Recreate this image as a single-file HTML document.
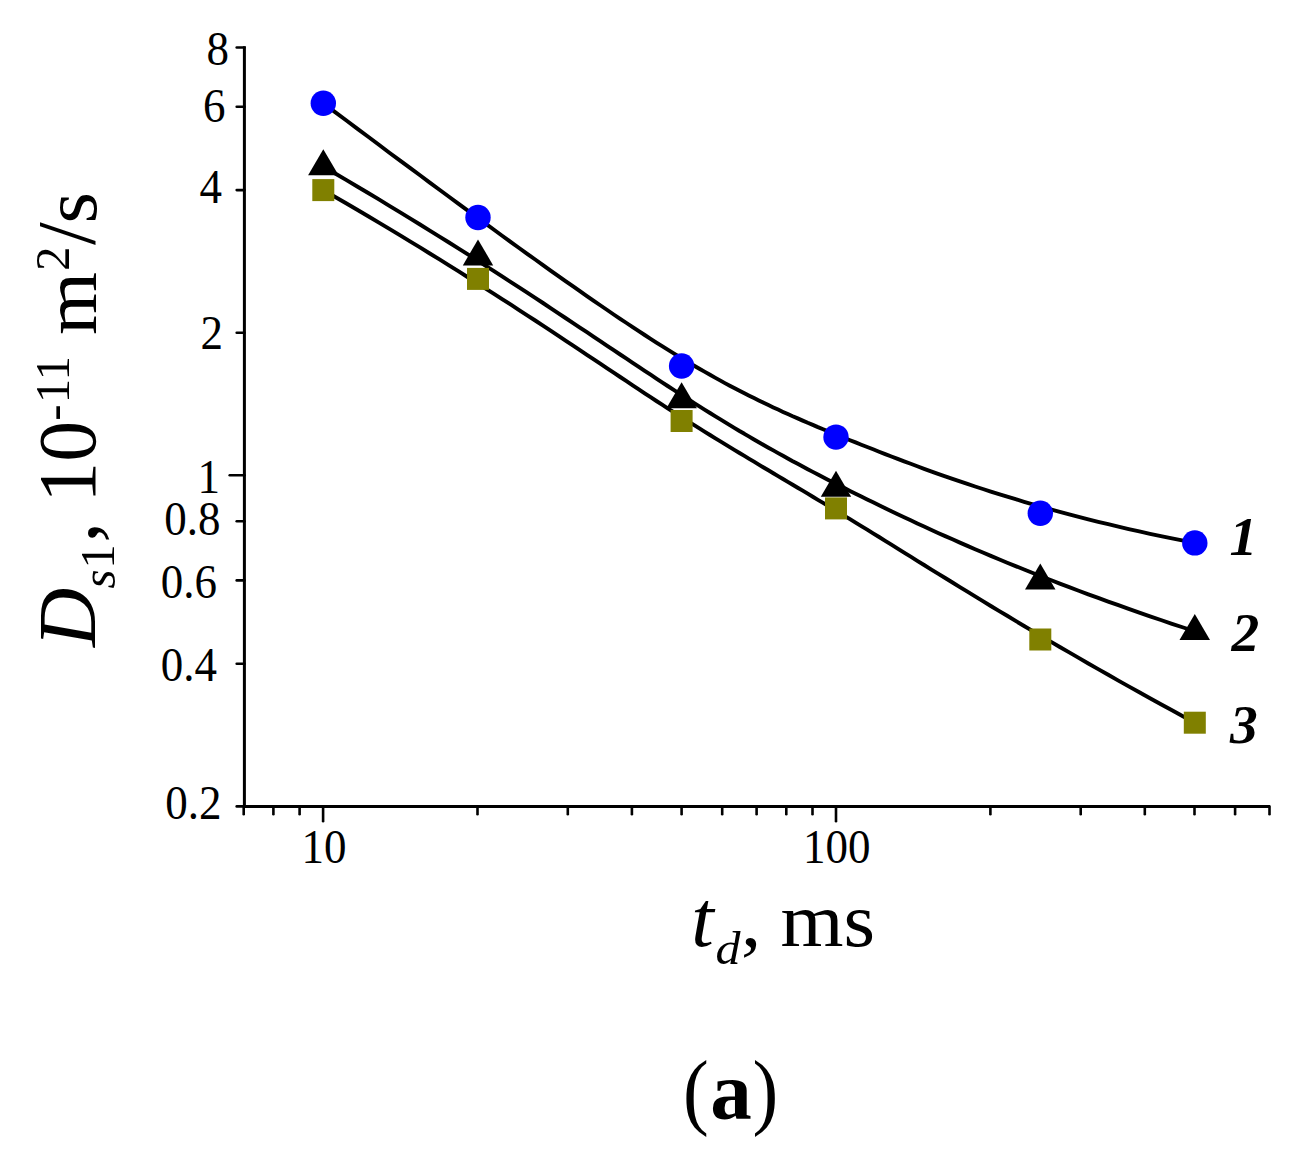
<!DOCTYPE html>
<html><head><meta charset="utf-8"><title>chart</title>
<style>
html,body{margin:0;padding:0;background:#fff;}
svg{display:block;}
text{font-family:"Liberation Serif",serif;fill:#000;}
</style></head><body>
<svg width="1316" height="1164" viewBox="0 0 1316 1164">
<rect width="1316" height="1164" fill="#fff"/>
<g fill="none" stroke="#000" stroke-width="3.9" stroke-linecap="round" stroke-linejoin="round">
<path d="M323.3,103.3 L334.8,111.9 L346.1,120.3 L357.2,128.6 L368.2,136.8 L378.9,144.8 L389.4,152.7 L399.8,160.4 L410.0,167.9 L420.0,175.3 L429.8,182.6 L439.5,189.8 L449.0,196.8 L458.3,203.6 L467.5,210.4 L476.5,217.0 L485.3,223.4 L494.0,229.8 L502.5,236.0 L510.9,242.1 L519.1,248.0 L527.2,253.8 L535.2,259.5 L543.0,265.1 L550.6,270.6 L558.1,275.9 L565.5,281.1 L572.8,286.2 L579.9,291.2 L586.9,296.1 L593.8,300.9 L600.6,305.5 L607.2,310.0 L613.7,314.5 L620.2,318.8 L626.5,323.0 L632.7,327.1 L638.8,331.1 L644.7,335.0 L650.6,338.8 L656.4,342.6 L662.1,346.2 L667.7,349.7 L673.3,353.1 L678.7,356.5 L684.1,359.7 L689.4,362.9 L694.6,366.0 L699.8,369.0 L704.9,371.9 L710.0,374.8 L715.0,377.6 L720.0,380.4 L724.9,383.1 L729.8,385.7 L734.7,388.3 L739.5,390.8 L744.4,393.3 L749.2,395.7 L754.0,398.1 L758.8,400.5 L763.6,402.8 L768.4,405.1 L773.3,407.4 L778.1,409.6 L783.0,411.9 L787.8,414.1 L792.7,416.3 L797.7,418.4 L802.7,420.6 L807.7,422.8 L812.8,424.9 L817.9,427.1 L823.1,429.2 L828.3,431.4 L833.6,433.6 L839.0,435.8 L844.5,438.0 L850.0,440.2 L855.6,442.4 L861.3,444.7 L867.2,447.0 L873.1,449.3 L879.1,451.7 L885.2,454.1 L891.4,456.5 L897.7,458.9 L904.1,461.3 L910.7,463.8 L917.3,466.3 L924.1,468.8 L931.0,471.3 L938.0,473.8 L945.2,476.3 L952.5,478.8 L959.9,481.4 L967.4,483.9 L975.1,486.5 L982.9,489.0 L990.8,491.6 L998.9,494.1 L1007.2,496.7 L1015.6,499.2 L1024.1,501.8 L1032.8,504.3 L1041.6,506.9 L1050.7,509.4 L1059.8,511.9 L1069.2,514.4 L1078.7,516.9 L1088.3,519.4 L1098.2,521.8 L1108.2,524.2 L1118.4,526.7 L1128.7,529.1 L1139.3,531.4 L1150.0,533.8 L1160.9,536.1 L1172.0,538.4 L1183.3,540.7 L1194.8,542.9"/>
<path d="M323.3,166.5 L334.8,173.2 L346.1,179.9 L357.2,186.5 L368.2,193.0 L378.9,199.4 L389.4,205.8 L399.8,212.1 L410.0,218.3 L420.0,224.5 L429.8,230.6 L439.5,236.6 L449.0,242.5 L458.3,248.4 L467.5,254.2 L476.5,259.9 L485.3,265.6 L494.0,271.2 L502.5,276.7 L510.9,282.1 L519.1,287.4 L527.2,292.7 L535.2,297.9 L543.0,303.0 L550.6,308.1 L558.1,313.1 L565.5,318.0 L572.8,322.8 L579.9,327.6 L586.9,332.2 L593.8,336.8 L600.6,341.3 L607.2,345.8 L613.7,350.2 L620.2,354.5 L626.5,358.7 L632.7,362.8 L638.8,366.9 L644.7,370.8 L650.6,374.7 L656.4,378.6 L662.1,382.3 L667.7,386.0 L673.3,389.6 L678.7,393.1 L684.1,396.6 L689.4,400.0 L694.6,403.3 L699.8,406.6 L704.9,409.8 L710.0,413.0 L715.0,416.1 L720.0,419.1 L724.9,422.1 L729.8,425.1 L734.7,428.1 L739.5,431.0 L744.4,433.8 L749.2,436.7 L754.0,439.5 L758.8,442.2 L763.6,445.0 L768.4,447.7 L773.3,450.4 L778.1,453.1 L783.0,455.8 L787.8,458.5 L792.7,461.2 L797.7,463.8 L802.7,466.5 L807.7,469.2 L812.8,471.9 L817.9,474.5 L823.1,477.2 L828.3,479.9 L833.6,482.6 L839.0,485.4 L844.5,488.1 L850.0,490.9 L855.6,493.7 L861.3,496.5 L867.2,499.4 L873.1,502.3 L879.1,505.2 L885.2,508.2 L891.4,511.2 L897.7,514.2 L904.1,517.2 L910.7,520.3 L917.3,523.4 L924.1,526.5 L931.0,529.7 L938.0,532.9 L945.2,536.1 L952.5,539.3 L959.9,542.6 L967.4,545.9 L975.1,549.2 L982.9,552.5 L990.8,555.9 L998.9,559.3 L1007.2,562.7 L1015.6,566.1 L1024.1,569.5 L1032.8,573.0 L1041.6,576.5 L1050.7,580.0 L1059.8,583.6 L1069.2,587.1 L1078.7,590.7 L1088.3,594.3 L1098.2,597.9 L1108.2,601.6 L1118.4,605.2 L1128.7,608.9 L1139.3,612.6 L1150.0,616.3 L1160.9,620.0 L1172.0,623.8 L1183.3,627.5 L1194.8,631.3"/>
<path d="M323.3,190.1 L334.8,196.7 L346.1,203.3 L357.2,209.8 L368.2,216.2 L378.9,222.6 L389.4,228.9 L399.8,235.2 L410.0,241.3 L420.0,247.4 L429.8,253.5 L439.5,259.4 L449.0,265.4 L458.3,271.2 L467.5,277.0 L476.5,282.7 L485.3,288.3 L494.0,293.8 L502.5,299.3 L510.9,304.7 L519.1,310.1 L527.2,315.3 L535.2,320.5 L543.0,325.7 L550.6,330.7 L558.1,335.7 L565.5,340.6 L572.8,345.4 L579.9,350.1 L586.9,354.8 L593.8,359.4 L600.6,363.9 L607.2,368.4 L613.7,372.7 L620.2,377.0 L626.5,381.2 L632.7,385.3 L638.8,389.3 L644.7,393.3 L650.6,397.2 L656.4,401.0 L662.1,404.7 L667.7,408.3 L673.3,411.9 L678.7,415.3 L684.1,418.8 L689.4,422.1 L694.6,425.4 L699.8,428.6 L704.9,431.8 L710.0,435.0 L715.0,438.1 L720.0,441.1 L724.9,444.1 L729.8,447.1 L734.7,450.1 L739.5,453.0 L744.4,455.9 L749.2,458.8 L754.0,461.7 L758.8,464.6 L763.6,467.5 L768.4,470.3 L773.3,473.2 L778.1,476.1 L783.0,479.0 L787.8,481.9 L792.7,484.8 L797.7,487.7 L802.7,490.7 L807.7,493.7 L812.8,496.7 L817.9,499.8 L823.1,502.9 L828.3,506.0 L833.6,509.2 L839.0,512.5 L844.5,515.8 L850.0,519.1 L855.6,522.6 L861.3,526.1 L867.2,529.6 L873.1,533.3 L879.1,537.0 L885.2,540.8 L891.4,544.6 L897.7,548.6 L904.1,552.6 L910.7,556.6 L917.3,560.8 L924.1,565.0 L931.0,569.3 L938.0,573.6 L945.2,578.0 L952.5,582.5 L959.9,587.1 L967.4,591.7 L975.1,596.4 L982.9,601.1 L990.8,606.0 L998.9,610.9 L1007.2,615.8 L1015.6,620.9 L1024.1,626.0 L1032.8,631.1 L1041.6,636.3 L1050.7,641.6 L1059.8,647.0 L1069.2,652.4 L1078.7,657.9 L1088.3,663.5 L1098.2,669.1 L1108.2,674.8 L1118.4,680.6 L1128.7,686.4 L1139.3,692.3 L1150.0,698.2 L1160.9,704.3 L1172.0,710.3 L1183.3,716.5 L1194.8,722.7"/>
</g>
<g stroke="#000" stroke-width="3.0" fill="none" stroke-linecap="butt">
<path d="M244.4,46.2 V806.6"/>
<path d="M244.4,806.6 H1270.1"/>
</g>
<g stroke="#000" stroke-width="2.6" fill="none" stroke-linecap="round">
<path d="M236.7,47.5 H244.4"/>
<path d="M236.7,106.7 H244.4"/>
<path d="M236.7,190.1 H244.4"/>
<path d="M236.7,332.7 H244.4"/>
<path d="M236.7,521.2 H244.4"/>
<path d="M236.7,580.4 H244.4"/>
<path d="M236.7,663.8 H244.4"/>
<path d="M236.7,806.4 H244.4"/>
<path d="M229.7,475.3 H244.4"/>
<path d="M243.7,806.6 V814.3"/>
<path d="M273.4,806.6 V814.3"/>
<path d="M299.6,806.6 V814.3"/>
<path d="M477.5,806.6 V814.3"/>
<path d="M567.8,806.6 V814.3"/>
<path d="M631.9,806.6 V814.3"/>
<path d="M681.6,806.6 V814.3"/>
<path d="M722.2,806.6 V814.3"/>
<path d="M756.6,806.6 V814.3"/>
<path d="M786.3,806.6 V814.3"/>
<path d="M812.5,806.6 V814.3"/>
<path d="M990.4,806.6 V814.3"/>
<path d="M1080.7,806.6 V814.3"/>
<path d="M1144.8,806.6 V814.3"/>
<path d="M1194.5,806.6 V814.3"/>
<path d="M1235.1,806.6 V814.3"/>
<path d="M1269.5,806.6 V814.3"/>
<path d="M323.1,806.6 V821.3"/>
<path d="M836.0,806.6 V821.3"/>
</g>
<path d="M323.3,149.2 L338.6,175.2 L308.1,175.2Z" fill="#000"/>
<path d="M478.0,239.4 L493.2,265.4 L462.8,265.4Z" fill="#000"/>
<path d="M681.6,382.2 L696.9,408.2 L666.4,408.2Z" fill="#000"/>
<path d="M836.0,470.8 L851.2,496.8 L820.8,496.8Z" fill="#000"/>
<path d="M1040.3,563.6 L1055.5,589.6 L1025.0,589.6Z" fill="#000"/>
<path d="M1194.8,614.0 L1210.0,640.0 L1179.5,640.0Z" fill="#000"/>
<rect x="312.3" y="179.1" width="22" height="22" fill="#808000"/>
<rect x="467.0" y="267.9" width="22" height="22" fill="#808000"/>
<rect x="670.6" y="410.0" width="22" height="22" fill="#808000"/>
<rect x="825.0" y="497.4" width="22" height="22" fill="#808000"/>
<rect x="1029.3" y="628.5" width="22" height="22" fill="#808000"/>
<rect x="1183.8" y="711.7" width="22" height="22" fill="#808000"/>
<circle cx="323.3" cy="103.3" r="12.7" fill="#0000ff"/>
<circle cx="478.0" cy="217.5" r="12.7" fill="#0000ff"/>
<circle cx="681.6" cy="366.0" r="12.7" fill="#0000ff"/>
<circle cx="836.0" cy="437.1" r="12.7" fill="#0000ff"/>
<circle cx="1040.3" cy="513.3" r="12.7" fill="#0000ff"/>
<circle cx="1194.8" cy="542.9" r="12.7" fill="#0000ff"/>
<text transform="translate(229.0,64.5) scale(1,1.08)" font-size="45" text-anchor="end">8</text>
<text transform="translate(225.5,121.7) scale(1,1.08)" font-size="45" text-anchor="end">6</text>
<text transform="translate(222.0,203.1) scale(1,1.08)" font-size="45" text-anchor="end">4</text>
<text transform="translate(223.0,348.7) scale(1,1.08)" font-size="45" text-anchor="end">2</text>
<text transform="translate(220.0,493.2) scale(1,1.08)" font-size="45" text-anchor="end">1</text>
<text transform="translate(220.5,535.2) scale(1,1.08)" font-size="45" text-anchor="end">0.8</text>
<text transform="translate(217.1,597.6) scale(1,1.08)" font-size="45" text-anchor="end">0.6</text>
<text transform="translate(217.0,680.6) scale(1,1.08)" font-size="45" text-anchor="end">0.4</text>
<text transform="translate(221.5,819.4) scale(1,1.08)" font-size="45" text-anchor="end">0.2</text>
<text transform="translate(323.9,862.6) scale(1,1.08)" font-size="45" text-anchor="middle">10</text>
<text transform="translate(836.8,862.6) scale(1,1.08)" font-size="45" text-anchor="middle">100</text>
<text x="1229.5" y="555" font-size="55.5" font-style="italic" font-weight="bold">1</text>
<text x="1231.5" y="651.4" font-size="55.5" font-style="italic" font-weight="bold">2</text>
<text x="1230" y="743.2" font-size="55.5" font-style="italic" font-weight="bold">3</text>
<text x="691.2" y="945.9" font-size="81" font-style="italic">t</text>
<text transform="translate(715.5,964.2) scale(1,0.95)" font-size="50" font-style="italic">d</text>
<text transform="translate(741,945.9) scale(1,0.95)" font-size="81">,</text>
<text transform="translate(780.5,945.9) scale(1,0.95)" font-size="81">ms</text>
<text transform="translate(95.2,647) rotate(-90)" font-size="82" font-style="italic">D</text>
<text transform="translate(114.5,588.5) rotate(-90)" font-size="49" font-style="italic">s</text>
<text transform="translate(114.2,568.7) rotate(-90)" font-size="49">1</text>
<text transform="translate(96.9,542.4) rotate(-90)" font-size="82">,</text>
<text transform="translate(95.2,502.7) rotate(-90)" font-size="82">10</text>
<text transform="translate(69.8,420.7) rotate(-90)" font-size="49">-</text>
<text transform="translate(69.2,403.2) rotate(-90)" font-size="49">11</text>
<text transform="translate(95.9,334.9) rotate(-90) scale(1,0.94)" font-size="81">m</text>
<text transform="translate(68.7,271.0) rotate(-90)" font-size="49">2</text>
<text transform="translate(93.5,245.1) rotate(-90)" font-size="82">/</text>
<text transform="translate(95.9,223.6) rotate(-90) scale(1,0.94)" font-size="81">s</text>
<text transform="translate(683.0,1118.6) scale(0.92,1.017)" font-size="84">(</text>
<text x="710.2" y="1118.8" font-size="83" font-weight="bold">a</text>
<text transform="translate(752.4,1118.6) scale(0.92,1.017)" font-size="84">)</text>
</svg></body></html>
